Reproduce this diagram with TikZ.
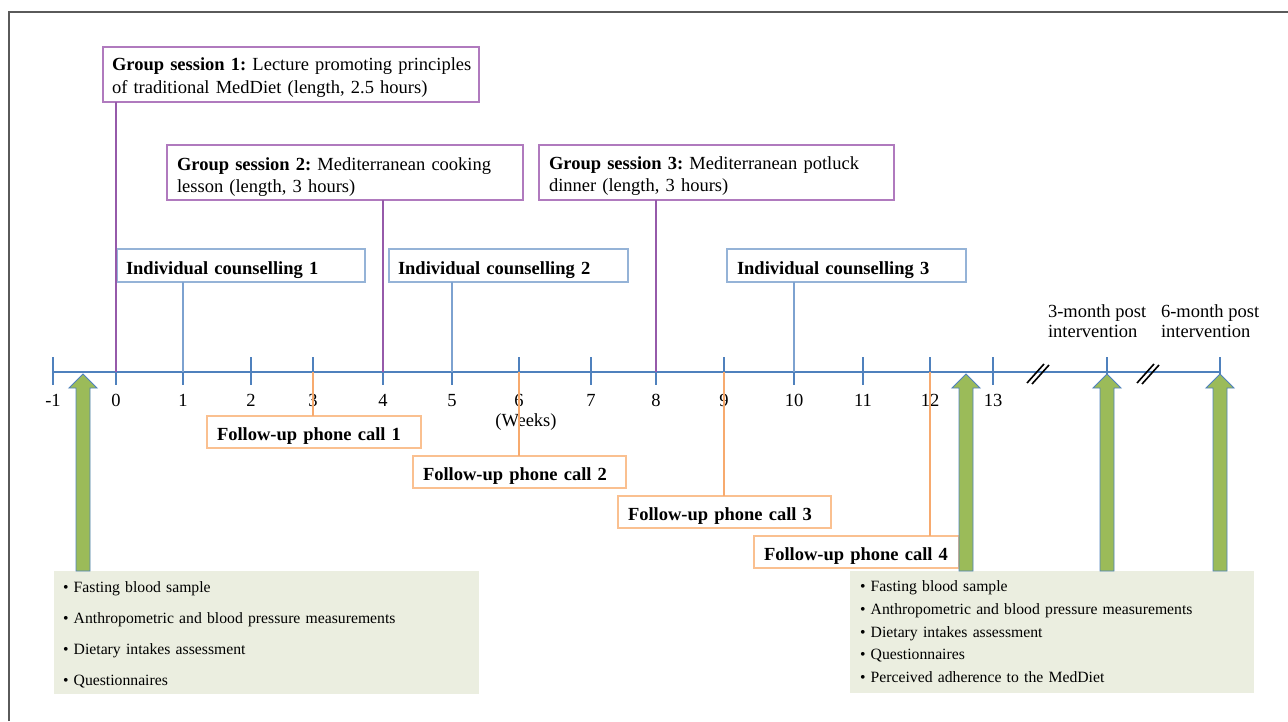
\documentclass[tikz,border=0pt]{standalone}
\usepackage{fontspec}
\setmainfont{Liberation Serif}
\usetikzlibrary{calc}
\definecolor{axisblue}{RGB}{79,129,189}
\definecolor{grpborder}{RGB}{176,122,190}
\definecolor{grpline}{RGB}{150,90,170}
\definecolor{cborder}{RGB}{149,179,215}
\definecolor{cline}{RGB}{125,162,208}
\definecolor{pborder}{RGB}{250,192,144}
\definecolor{pline}{RGB}{247,170,110}
\definecolor{arrgreen}{RGB}{155,187,89}
\definecolor{boxfill}{RGB}{235,238,224}
\definecolor{framegray}{RGB}{90,90,90}
\newcommand{\grarrow}[1]{%
  \draw[garrow] (#1) -- ++(14,14) -- ++(-7,0) -- ++(0,183) -- ++(-14,0) -- ++(0,-183) -- ++(-7,0) -- cycle;}
\newcommand{\brkmark}[1]{%
  \draw[brk] ($(#1)+(-11,10)$) -- ($(#1)+(6,-9)$);
  \draw[brk] ($(#1)+(-6,11)$) -- ($(#1)+(11,-8)$);}
\frenchspacing
\begin{document}
\frenchspacing
\begin{tikzpicture}[x=1pt,y=-1pt,
  every node/.style={inner sep=0pt, outer sep=0pt},
  bigfont/.style={font=\fontsize{18.5}{22.3}\selectfont},
  grpbox/.style={bigfont, draw=grpborder, line width=1.2pt, fill=white, anchor=north west, align=left, inner xsep=9pt, inner ysep=0pt},
  cbox/.style={bigfont, draw=cborder, line width=1.2pt, fill=white, anchor=north west, align=left, inner ysep=0pt, text height=25pt, text depth=8pt},
  pbox/.style={bigfont, draw=pborder, line width=1.2pt, fill=white, anchor=north west, align=left, inner ysep=0pt, text height=24.5pt, text depth=7.5pt},
  fbox/.style={fill=boxfill, anchor=north west, align=left, inner ysep=0pt},
  tlabel/.style={font=\fontsize{18.5}{22}\selectfont, anchor=base},
  axisline/.style={draw=axisblue, line width=2.5pt},
  gline/.style={draw=grpline, line width=1.2pt},
  cline/.style={draw=cline, line width=1.2pt},
  pline/.style={draw=pline, line width=1.2pt},
  garrow/.style={fill=arrgreen, draw=axisblue, line width=0.9pt, line join=miter},
  brk/.style={draw=black, line width=1.6pt},
  frame/.style={draw=framegray, line width=2pt}
]
\useasboundingbox (0,0) rectangle (1288,721);
\draw[frame] (9,721) -- (9,12) -- (1288,12);

% timeline coordinates
\foreach \n/\x in {m1/53, 0/116, 1/183, 2/251, 3/313, 4/383, 5/452, 6/519, 7/591, 8/656, 9/724, 10/794, 11/863, 12/930, 13/993, A/1107, B/1220}
  {\coordinate (t\n) at (\x,372);}

% axis and ticks
\draw[axisline] (tm1) -- (tB);
\foreach \n in {m1,0,1,2,3,4,5,6,7,8,9,10,11,12,13,A,B}
  {\draw[axisline] ($(t\n)+(0,-15)$) -- ($(t\n)+(0,13)$);}
\coordinate (br1) at (1038,373);
\coordinate (br2) at (1148,373);
\brkmark{br1}
\brkmark{br2}

% tick labels
\foreach \n/\lab in {m1/-1, 0/0, 1/1, 2/2, 3/3, 4/4, 5/5, 6/6, 7/7, 8/8, 9/9, 10/10, 11/11, 12/12, 13/13}
  {\node[tlabel] (lab\n) at ($(t\n)+(0,34)$) {\lab};}
\node[tlabel] (weeks) at (526,426) {(Weeks)};
\node[anchor=north west, align=left, font=\fontsize{18.5}{20}\selectfont] (post3) at (1048,300) {\rule{0pt}{17pt}3-month post\\intervention};
\node[anchor=north west, align=left, font=\fontsize{18.5}{20}\selectfont] (post6) at (1161,300) {\rule{0pt}{17pt}6-month post\\intervention};

% group sessions
\node[grpbox, text width=358pt] (g1) at (103,47) {\mbox{\rule{0pt}{23.7pt}\textbf{Group session 1:} Lecture promoting principles}\\\mbox{of traditional MedDiet (length, 2.5 hours)\rule[-9pt]{0pt}{9pt}}};
\node[grpbox, inner xsep=10pt, text width=336pt] (g2) at (167,145) {\mbox{\rule{0pt}{25pt}\textbf{Group session 2:} Mediterranean cooking}\\\mbox{lesson (length, 3 hours)\rule[-7.7pt]{0pt}{7.7pt}}};
\node[grpbox, inner xsep=10pt, text width=335pt] (g3) at (539,145) {\mbox{\rule{0pt}{24.5pt}\textbf{Group session 3:} Mediterranean potluck}\\\mbox{dinner (length, 3 hours)\rule[-8.2pt]{0pt}{8.2pt}}};

% individual counselling
\node[cbox, inner xsep=9pt, text width=230pt] (c1) at (117,249) {\mbox{\textbf{Individual counselling 1}}};
\node[cbox, inner xsep=9pt, text width=221pt] (c2) at (389,249) {\mbox{\textbf{Individual counselling 2}}};
\node[cbox, inner xsep=10pt, text width=219pt] (c3) at (727,249) {\mbox{\textbf{Individual counselling 3}}};

% phone calls
\node[pbox, inner xsep=10pt, text width=194pt] (p1) at (207,416) {\mbox{\textbf{Follow-up phone call 1}}};
\node[pbox, inner xsep=10pt, text width=193pt] (p2) at (413,456) {\mbox{\textbf{Follow-up phone call 2}}};
\node[pbox, inner xsep=10pt, text width=193pt] (p3) at (618,496) {\mbox{\textbf{Follow-up phone call 3}}};
\node[pbox, inner xsep=10pt, text width=185pt] (p4) at (754,536) {\mbox{\textbf{Follow-up phone call 4}}};

% connectors
\draw[gline] (g1.south -| t0) -- (t0);
\draw[gline] (g2.south -| t4) -- (t4);
\draw[gline] (g3.south -| t8) -- (t8);
\draw[cline] (c1.south -| t1) -- (t1);
\draw[cline] (c2.south -| t5) -- (t5);
\draw[cline] (c3.south -| t10) -- (t10);
\draw[pline] (t3) -- (p1.north -| t3);
\draw[pline] (t6) -- (p2.north -| t6);
\draw[pline] (t9) -- (p3.north -| t9);
\draw[pline] (t12) -- (p4.north -| t12);

% measurement boxes
\node[fbox, inner xsep=9pt, text width=407pt, font=\fontsize{15.7}{30.8}\selectfont] (m1) at (54,571) {\rule{0pt}{21.7pt}\textbullet\ Fasting blood sample\\\textbullet\ Anthropometric and blood pressure measurements\\\textbullet\ Dietary intakes assessment\\\textbullet\ Questionnaires\rule[-9pt]{0pt}{9pt}};
\node[fbox, inner xsep=10pt, text width=384pt, font=\fontsize{15.7}{22.75}\selectfont] (m2) at (850,571) {\rule{0pt}{20.7pt}\textbullet\ Fasting blood sample\\\textbullet\ Anthropometric and blood pressure measurements\\\textbullet\ Dietary intakes assessment\\\textbullet\ Questionnaires\\\textbullet\ Perceived adherence to the MedDiet\rule[-10.3pt]{0pt}{10.3pt}};

% green arrows
\coordinate (a1) at (83,374);
\coordinate (a2) at (966,374);
\coordinate (a3) at (1107,374);
\coordinate (a4) at (1220,374);
\grarrow{a1}
\grarrow{a2}
\grarrow{a3}
\grarrow{a4}
\end{tikzpicture}
\end{document}
